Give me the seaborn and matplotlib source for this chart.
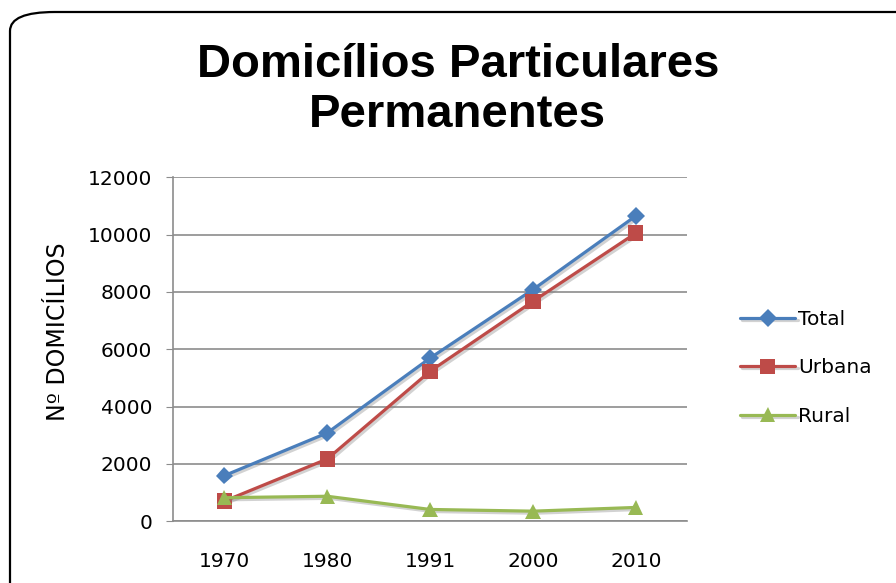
import pandas as pd
import matplotlib.pyplot as plt
import matplotlib.patheffects as pe
from matplotlib.patches import FancyBboxPatch
import seaborn as sns

# values
years = ["1970", "1980", "1991", "2000", "2010"]
total = [1590, 3080, 5690, 8080, 10650]
urbana = [700, 2170, 5230, 7670, 10050]
rural = [820, 870, 410, 350, 480]

series = {"Total": total, "Urbana": urbana, "Rural": rural}
colors = {"Total": "#4A7EBB", "Urbana": "#BE4B48", "Rural": "#98B954"}
markers = {"Total": "D", "Urbana": "s", "Rural": "^"}
sizes = {"Total": 9, "Urbana": 11, "Rural": 11}

rows = []
for name, vals in series.items():
    for y, v in zip(years, vals):
        rows.append({"Ano": y, "Domicilios": v, "Serie": name})
df = pd.DataFrame(rows)

sns.set_style("white")
plt.rcParams["font.family"] = ["DejaVu Sans"]
plt.rcParams["text.color"] = "black"
plt.rcParams["axes.labelcolor"] = "black"
plt.rcParams["xtick.color"] = "black"
plt.rcParams["ytick.color"] = "black"

fig = plt.figure(figsize=(8.96, 5.83), dpi=100)
ax = fig.add_axes([0.193, 0.106, 0.574, 0.590])

# rounded frame around the chart area
frame = FancyBboxPatch((10 / 896, -0.2), 1.2, 1.2 - 12 / 583,
                       boxstyle="round,pad=0,rounding_size=0.05",
                       transform=fig.transFigure, fill=False,
                       edgecolor="black", linewidth=1.6, mutation_aspect=583 / 896)
fig.patches.append(frame)

shadow = [pe.SimpleLineShadow(offset=(1.5, -1.5), shadow_color="gray", alpha=0.35), pe.Normal()]

for name in series:
    sub = df[df["Serie"] == name]
    sns.lineplot(data=sub, x="Ano", y="Domicilios", ax=ax, color=colors[name],
                 marker=markers[name], markersize=sizes[name], markeredgewidth=0,
                 linewidth=2.3, label=name, path_effects=shadow)

ax.set_xlim(-0.5, 4.5)
ax.set_ylim(0, 12000)
ax.set_yticks(range(0, 12001, 2000))
ax.yaxis.grid(True, color="#8C8C8C", linewidth=1.2)
ax.xaxis.grid(False)
for side in ["top", "right"]:
    ax.spines[side].set_visible(False)
for side in ["left", "bottom"]:
    ax.spines[side].set_color("#8C8C8C")
    ax.spines[side].set_linewidth(1.2)
ax.tick_params(axis="y", left=True, length=5, color="#8C8C8C", labelsize=14.5, pad=10)
ax.tick_params(axis="x", bottom=False, labelsize=14.5, pad=19)
ax.set_xlabel("")
ax.set_ylabel("Nº DOMICÍLIOS", fontsize=17)
ax.yaxis.set_label_coords(-0.20, 0.552)

fig.text(0.511, 0.846, "Domicílios Particulares\nPermanentes", ha="center", va="center",
         fontsize=34, fontweight="bold", family=["Liberation Sans"], linespacing=1.17)

leg = ax.legend(loc="center left", bbox_to_anchor=(0.826, 0.369), bbox_transform=fig.transFigure,
                frameon=False, fontsize=14.5, labelspacing=1.45, handlelength=2.75,
                handletextpad=0.15, borderaxespad=0, borderpad=0)

fig.savefig("out.png", dpi=100)
